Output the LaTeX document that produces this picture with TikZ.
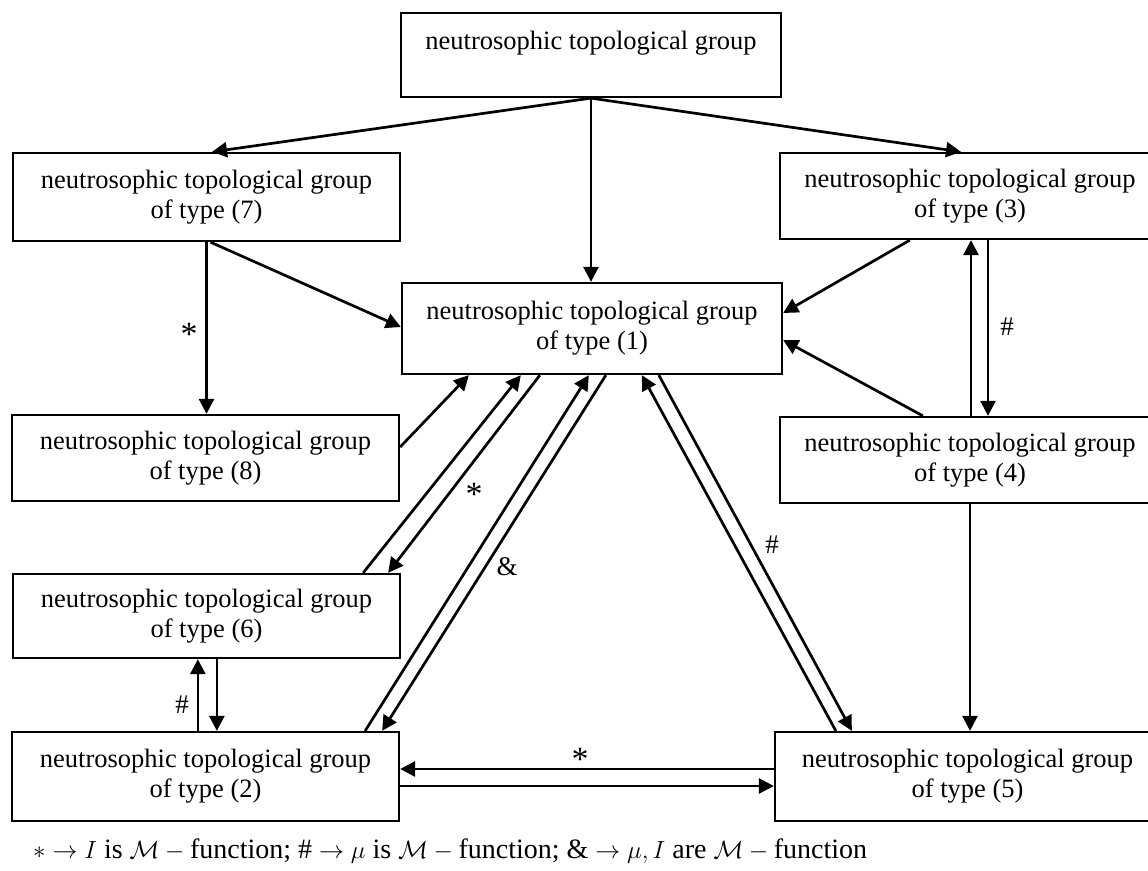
\documentclass[tikz,border=0pt]{standalone}
\usepackage{fontspec}
\setmainfont{Liberation Serif}
\usetikzlibrary{arrows.meta}
\begin{document}
\begin{tikzpicture}[x=1pt,y=-1pt,
  box/.style={draw,line width=2.3pt,rectangle,inner sep=0pt,align=center,
    font=\fontsize{26.5}{30}\selectfont},
  arr/.style={line width=2.7pt,-{Triangle[length=15pt,width=15pt]}},
  lbl/.style={font=\fontsize{27}{30}\selectfont,inner sep=0pt},
  star/.style={font=\fontsize{34}{30}\selectfont,inner sep=0pt},
  legend/.style={font=\fontsize{28}{30}\selectfont,inner sep=0pt}]
\useasboundingbox (0,0) rectangle (1148,870);
\clip (0,0) rectangle (1148,870);
\node[box,minimum width=380pt,minimum height=84pt] (top) at (591,55) {neutrosophic topological group\\[0pt]~};
\node[box,minimum width=387pt,minimum height=88pt] (t7) at (206.5,197) {neutrosophic topological group\\of type (7)};
\node[box,minimum width=380pt,minimum height=86pt] (t3) at (970,196) {neutrosophic topological group\\of type (3)};
\node[box,minimum width=380pt,minimum height=91pt] (t1) at (592,328.5) {neutrosophic topological group\\of type (1)};
\node[box,minimum width=387pt,minimum height=86pt] (t8) at (205.5,458) {neutrosophic topological group\\of type (8)};
\node[box,minimum width=380pt,minimum height=86pt] (t4) at (970,460) {neutrosophic topological group\\of type (4)};
\node[box,minimum width=387pt,minimum height=84pt] (t6) at (206.5,616) {neutrosophic topological group\\of type (6)};
\node[box,minimum width=387pt,minimum height=89pt] (t2) at (205.5,776.5) {neutrosophic topological group\\of type (2)};
\node[box,minimum width=385pt,minimum height=89pt] (t5) at (967.5,776.5) {neutrosophic topological group\\of type (5)};
% from top
\draw[arr] (top.south) -- ([xshift=5.5pt]t7.north);
\draw[arr] (top.south) -- ([xshift=-9pt]t3.north);
\draw[arr] (top.south) -- (top.south |- t1.north);
% t7
\draw[arr] (t7.south) -- (t7.south |- t8.north);
\draw[arr] ([xshift=4pt]t7.south) -- ([yshift=1.5pt]t1.west);
% t3, t4
\draw[arr] ([xshift=131pt]t3.south west) -- ([yshift=15.5pt]t1.east);
\draw[arr] ([xshift=144pt]t4.north west) -- ([yshift=-11.5pt]t1.east);
\draw[arr] ([xshift=1pt]t4.north) -- ([xshift=1pt]t3.south);
\draw[arr] ([xshift=18pt]t3.south) -- ([xshift=18pt]t4.north);
\draw[arr] (t4.south) -- (t4.south |- t5.north);
% t8 to t1
\draw[arr] ([yshift=11pt]t8.east) -- ([xshift=68pt]t1.south west);
% t6 <-> t1
\draw[arr] ([xshift=-38pt]t6.north east) -- ([xshift=120pt]t1.south west);
\draw[arr] ([xshift=139pt]t1.south west) -- ([xshift=-13pt]t6.north east);
% t2 <-> t1
\draw[arr] ([xshift=-35pt]t2.north east) -- ([xshift=188pt]t1.south west);
\draw[arr] ([xshift=205pt]t1.south west) -- ([xshift=-18pt]t2.north east);
% t5 <-> t1
\draw[arr] ([xshift=62pt]t5.north west) -- ([xshift=241pt]t1.south west);
\draw[arr] ([xshift=258pt]t1.south west) -- ([xshift=78pt]t5.north west);
% t2 <-> t6
\draw[arr] ([xshift=187pt]t2.north west) -- ([xshift=186pt]t6.south west);
\draw[arr] ([xshift=205pt]t6.south west) -- ([xshift=206pt]t2.north west);
% t2 <-> t5
\draw[arr] ([yshift=7.5pt]t5.west) -- ([yshift=7.5pt]t2.east);
\draw[arr] ([yshift=-9.5pt]t2.east) -- ([yshift=-9.5pt]t5.west);
% labels
\node[star] (l1) at (189,334) {*};
\node[lbl] (l2) at (1007,327) {\#};
\node[star] (l3) at (474,494) {*};
\node[lbl] (l4) at (507,567) {\&};
\node[lbl] (l5) at (772,545) {\#};
\node[lbl] (l6) at (182,705) {\#};
\node[star] (l7) at (580,759) {*};
\node[legend,anchor=west] (leg) at (33,851) {$*\rightarrow I$ is $\mathcal{M}-{}$function; \# $\rightarrow\mu$ is $\mathcal{M}-{}$function; \& $\rightarrow\mu,I$ are $\mathcal{M}-{}$function};
\end{tikzpicture}
\end{document}
